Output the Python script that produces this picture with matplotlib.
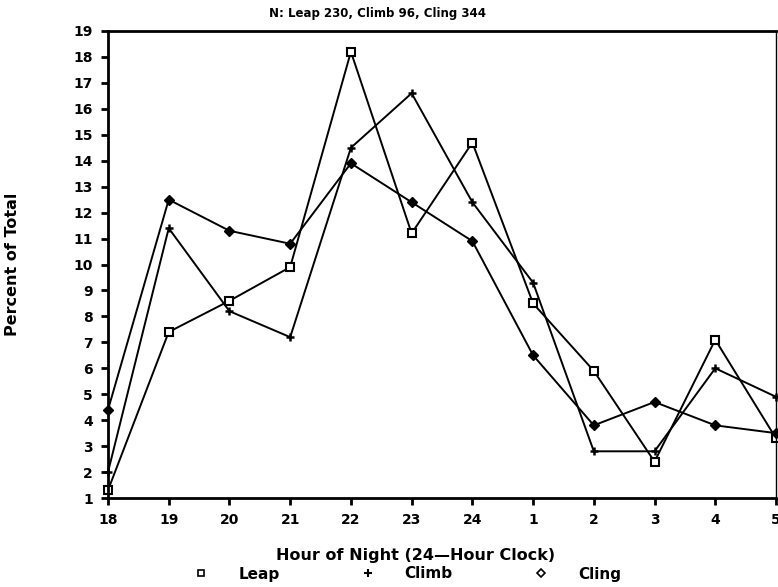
import matplotlib.pyplot as plt
from matplotlib.lines import Line2D

# --- Data ---
hours = ['18', '19', '20', '21', '22', '23', '24', '1', '2', '3', '4', '5']
leap = [1.3, 7.4, 8.6, 9.9, 18.2, 11.2, 14.7, 8.5, 5.9, 2.4, 7.1, 3.3]
climb = [2.0, 11.4, 8.2, 7.2, 14.5, 16.6, 12.4, 9.3, 2.8, 2.8, 6.0, 4.9]
cling = [4.4, 12.5, 11.3, 10.8, 13.9, 12.4, 10.9, 6.5, 3.8, 4.7, 3.8, 3.5]
series_names = ['Leap', 'Climb', 'Cling']
title = 'N: Leap 230, Climb 96, Cling 344'

plt.rcParams['font.family'] = 'DejaVu Sans'
plt.rcParams['font.weight'] = 'bold'

fig = plt.figure(figsize=(7.78, 5.87), dpi=100)
ax = fig.add_axes([108 / 778, 1 - 498 / 587, 668 / 778, (498 - 31) / 587])

x = list(range(len(hours)))
ax.plot(x, leap, color='black', lw=1.4, marker='s', ms=6, mfc='white', mew=1.5, clip_on=False)
ax.plot(x, climb, color='black', lw=1.4, marker='+', ms=6, mew=1.8, clip_on=False)
ax.plot(x, cling, color='black', lw=1.4, marker='D', ms=5, mfc='black', clip_on=False)

ax.set_xlim(0, len(hours) - 1)
ax.set_ylim(1, 19)
ax.set_xticks(x)
ax.set_xticklabels(hours, fontsize=10, fontweight='bold')
ax.set_yticks(range(1, 20))
ax.set_yticklabels([str(v) for v in range(1, 20)], fontsize=10, fontweight='bold')
ax.tick_params(direction='out', length=5, width=2, pad=6)

for s in ax.spines.values():
    s.set_linewidth(2)
ax.spines['right'].set_linewidth(1)

ax.set_title(title, fontsize=8.5, fontweight='bold', x=0.404, pad=10)
ax.set_ylabel('Percent of Total', fontsize=11.5, fontweight='bold')
ax.yaxis.set_label_coords(-0.132, 0.5)
ax.set_xlabel('Hour of Night (24\u2014Hour Clock)', fontsize=11.5, fontweight='bold')
ax.xaxis.set_label_coords(0.461, -0.108)

handles = [
    Line2D([], [], ls='none', marker='s', ms=5, mfc='white', mec='black', mew=1.2),
    Line2D([], [], ls='none', marker='+', ms=6, mec='black', mew=1.5),
    Line2D([], [], ls='none', marker='D', ms=4, mfc='white', mec='black', mew=1.2),
]
fig.legend(handles, series_names, loc='center', bbox_to_anchor=(409 / 778, 1 - 574 / 587),
           ncol=3, frameon=False, fontsize=11, handlelength=0.6, handletextpad=2.1,
           columnspacing=5.5, borderpad=0)

fig.savefig('out.png', dpi=100)
